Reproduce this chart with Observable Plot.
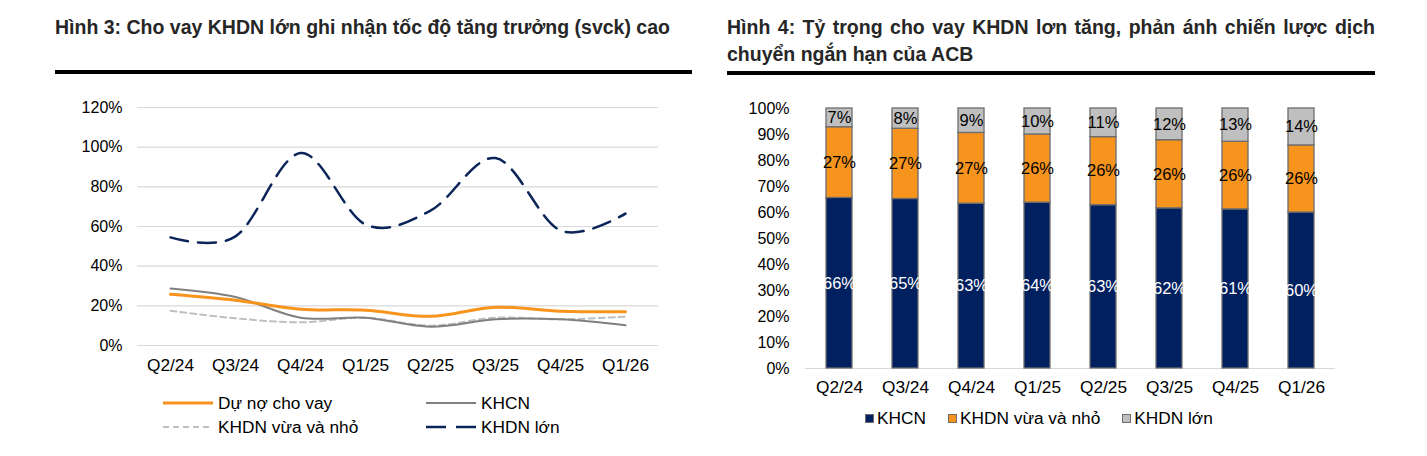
<!DOCTYPE html>
<html><head><meta charset="utf-8">
<script src="https://cdn.jsdelivr.net/npm/d3@7"></script>
<script src="https://cdn.jsdelivr.net/npm/@observablehq/plot@0.6"></script>
<style>
body{margin:0;background:#fff;font-family:"Liberation Sans",Arial,sans-serif;}
#root{position:relative;width:1427px;height:456px;overflow:hidden;background:#fff;}
.abs{position:absolute;}
.title{font-weight:bold;font-size:19.5px;color:#262626;line-height:27px;}
.rule{position:absolute;height:4px;background:#000;}
.leg{position:absolute;font-size:17.3px;color:#000;display:flex;align-items:center;white-space:nowrap;}
.sq{display:inline-block;width:7px;height:7px;border:1.5px solid #6d6d6d;margin-right:3px;}
</style></head><body><div id="root"></div>
<script>
// ---- data ----
const quarters = ["Q2/24","Q3/24","Q4/24","Q1/25","Q2/25","Q3/25","Q4/25","Q1/26"];
// Hình 3: tăng trưởng svck (%)
const duNoChoVay = [25.8,22.8,18.3,17.8,14.7,19.3,17.3,17.0];
const khcnGrowth = [28.8,24.5,14.0,14.0,9.5,13.2,13.2,10.2];
const smeGrowth  = [17.5,13.7,11.7,14.0,10.0,14.0,13.2,14.5];
const largeGrowth= [54.5,55.0,97.0,61.0,68.0,94.5,58.0,66.5];
const growthTicks = [0,20,40,60,80,100,120];
// Hình 4: tỷ trọng (%)
const khcnShare  = [65.6,65.2,63.4,63.8,62.8,61.6,61.2,60.0];
const smeShare   = [27.2,27.0,27.2,26.2,26.2,26.2,26.0,25.8];
const largeShare = [7.2,7.8,9.4,10.0,11.0,12.2,12.8,14.2];
const shareTicks = [0,10,20,30,40,50,60,70,80,90,100];
const seriesLine = ["Dự nợ cho vay","KHCN","KHDN vừa và nhỏ","KHDN lớn"];
const seriesBar = ["KHCN","KHDN vừa và nhỏ","KHDN lớn"];

const root = document.getElementById("root");
const FONT = '"Liberation Sans", Arial, sans-serif';

function add(html, cls, style){const d=document.createElement("div");d.className=cls;d.innerHTML=html;Object.assign(d.style,style);root.appendChild(d);return d;}

// titles
add("Hình 3: Cho vay KHDN lớn ghi nhận tốc độ tăng trưởng (svck) cao","title abs",{left:"55px",top:"14px",whiteSpace:"nowrap"});
add("Hình 4: Tỷ trọng cho vay KHDN lơn tăng, phản ánh chiến lược dịch","title abs",{left:"727px",top:"14px",width:"648px",textAlign:"justify",textAlignLast:"justify",whiteSpace:"nowrap"});
add("chuyển ngắn hạn của ACB","title abs",{left:"727px",top:"41px",whiteSpace:"nowrap"});
add("","rule",{left:"55px",top:"70px",width:"637px"});
add("","rule",{left:"727px",top:"71px",width:"648px"});

// ---- left line chart ----
const lineData = [];
const cols = [duNoChoVay,khcnGrowth,smeGrowth,largeGrowth];
seriesLine.forEach((s,i)=>quarters.forEach((q,j)=>lineData.push({s,q,v:cols[i][j]})));
const styleOf = {
  "Dự nợ cho vay":{stroke:"#F7941D",w:3,dash:null},
  "KHCN":{stroke:"#808080",w:2,dash:null},
  "KHDN vừa và nhỏ":{stroke:"#BFBFBF",w:2,dash:"6,4"},
  "KHDN lớn":{stroke:"#0B2559",w:2.5,dash:"18,10"}
};
const drawOrder = ["KHDN vừa và nhỏ","KHCN","Dự nợ cho vay","KHDN lớn"];
const left = Plot.plot({
  width:700,height:290,marginLeft:137,marginRight:42,marginTop:17,marginBottom:35,
  x:{type:"point",domain:quarters,padding:0.5,label:null},
  y:{domain:[0,120],label:null},
  style:{fontSize:"16px",fontFamily:FONT,color:"#000",background:"transparent",overflow:"visible"},
  marks:[
    Plot.ruleY(growthTicks,{stroke:"#d9d9d9",strokeWidth:1.2}),
    Plot.axisY({ticks:growthTicks,tickFormat:d=>d+"%",tickSize:0,tickPadding:15,label:null,fill:"#000",fontSize:16}),
    Plot.axisX({tickSize:0,tickPadding:13,label:null,fill:"#000",fontSize:17.3}),
    ...drawOrder.map(s=>Plot.line(lineData.filter(d=>d.s===s),{x:"q",y:"v",curve:"cardinal",stroke:styleOf[s].stroke,strokeWidth:styleOf[s].w,strokeDasharray:styleOf[s].dash}))
  ]
});
left.style.position="absolute";left.style.left="0px";left.style.top="90px";
root.appendChild(left);

// left legend
function lineSwatch(s){const st=styleOf[s];return `<svg width="50" height="6" style="margin-right:5px"><line x1="0" x2="50" y1="3" y2="3" stroke="${st.stroke}" stroke-width="${st.w}" ${st.dash?`stroke-dasharray="${st.dash==="18,10"?"20,10":st.dash}"`:""}/></svg>`;}
const legPos = [[163,393],[426,393],[163,417],[426,417]];
const legOrder = ["Dự nợ cho vay","KHCN","KHDN vừa và nhỏ","KHDN lớn"];
legOrder.forEach((s,i)=>add(lineSwatch(s)+`<span>${s}</span>`,"leg",{left:legPos[i][0]+"px",top:legPos[i][1]+"px",height:"20px"}));

// ---- right stacked bar chart ----
const barData = [];
const bcols = [khcnShare,smeShare,largeShare];
seriesBar.forEach((s,i)=>quarters.forEach((q,j)=>barData.push({s,q,v:bcols[i][j]})));
const fills = {"KHCN":"#002060","KHDN vừa và nhỏ":"#F7941D","KHDN lớn":"#BFBFBF"};
const right = Plot.plot({
  width:645,height:308,marginLeft:105,marginRight:10,marginTop:18,marginBottom:30,
  x:{type:"band",domain:quarters,paddingInner:0.6,paddingOuter:0.3,label:null},
  y:{domain:[0,100],label:null},
  color:{domain:seriesBar,range:seriesBar.map(s=>fills[s])},
  style:{fontSize:"16px",fontFamily:FONT,color:"#000",background:"transparent",overflow:"visible"},
  marks:[
    Plot.ruleY([0],{stroke:"#d9d9d9",strokeWidth:1.2}),
    Plot.axisY({ticks:shareTicks,tickFormat:d=>d+"%",tickSize:0,tickPadding:16,label:null,fill:"#000",fontSize:16}),
    Plot.axisX({tickSize:0,tickPadding:12,label:null,fill:"#000",fontSize:17.3}),
    Plot.barY(barData,{x:"q",y:"v",fill:"s",order:seriesBar,stroke:"#6d6d6d",strokeWidth:1.3}),
    Plot.text(barData,Plot.stackY({x:"q",y:"v",order:seriesBar,text:d=>Math.round(d.v)+"%",fill:d=>d.s==="KHCN"?"#fff":"#000",fontSize:16.5}))
  ]
});
right.style.position="absolute";right.style.left="700px";right.style.top="90px";
root.appendChild(right);

// right legend
add(seriesBar.map((s,i)=>`<span class="sq" style="background:${fills[s]}"></span><span style="margin-right:${i<2?22:0}px">${s}</span>`).join(""),"leg",{left:"865px",top:"408px",height:"20px"});
</script></body></html>
